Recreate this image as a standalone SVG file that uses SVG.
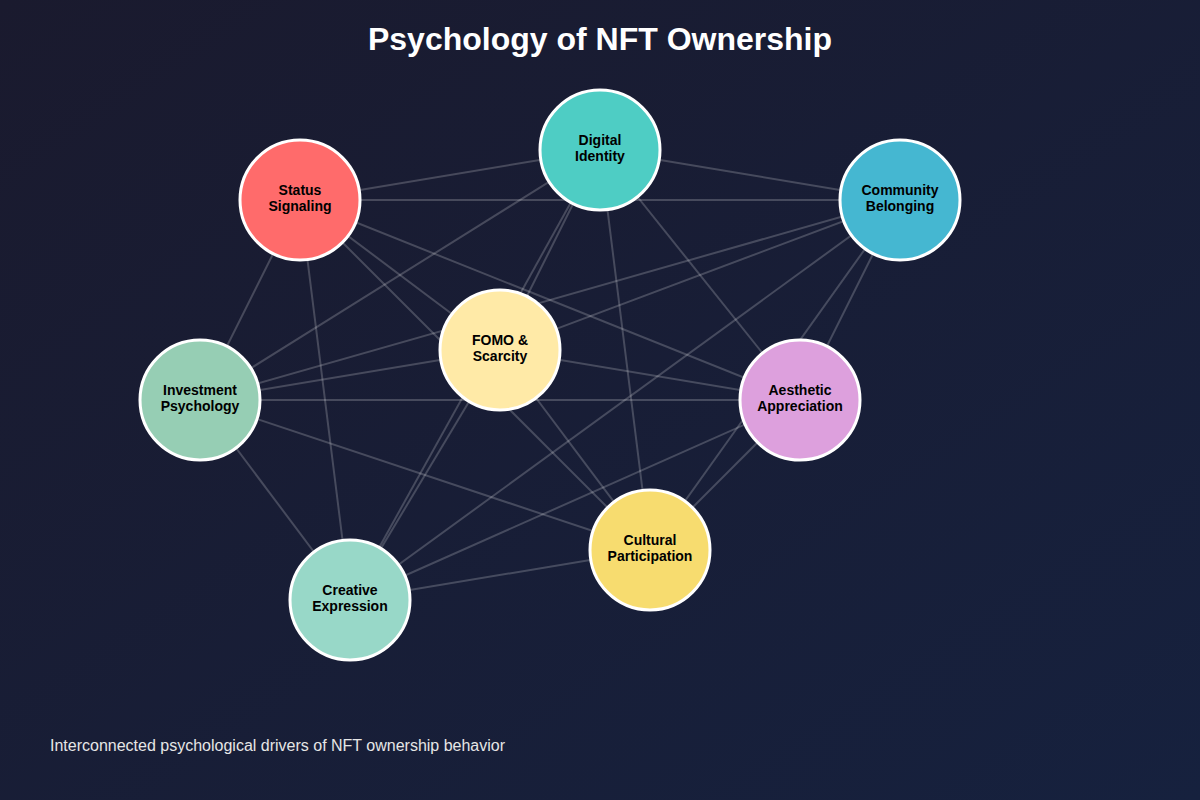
<svg xmlns="http://www.w3.org/2000/svg" width="1200" height="800" viewBox="0 0 1200 800">
<defs>
<linearGradient id="bg" x1="0" y1="0" x2="1" y2="1">
<stop offset="0" stop-color="#1a1a2e"/>
<stop offset="1" stop-color="#16213e"/>
</linearGradient>
<style>
.edge{stroke:#ffffff;stroke-opacity:0.2;stroke-width:2;fill:none}
.node circle{stroke:#ffffff;stroke-width:3}
.label{font-family:"Liberation Sans",Arial,sans-serif;font-size:14px;font-weight:bold;fill:#000000;text-anchor:middle}
.title{font-family:"Liberation Sans",Arial,sans-serif;font-size:32px;font-weight:bold;fill:#ffffff;text-anchor:middle}
.caption{font-family:"Liberation Sans",Arial,sans-serif;font-size:16px;fill:#e6e6e6}
</style>
</defs>
<rect width="1200" height="800" fill="url(#bg)"/>
<text class="title" x="600" y="50">Psychology of NFT Ownership</text>
<g id="connectors">
<line class="edge" x1="300" y1="200" x2="600" y2="150"/>
<line class="edge" x1="300" y1="200" x2="900" y2="200"/>
<line class="edge" x1="300" y1="200" x2="500" y2="350"/>
<line class="edge" x1="300" y1="200" x2="200" y2="400"/>
<line class="edge" x1="300" y1="200" x2="350" y2="600"/>
<line class="edge" x1="300" y1="200" x2="650" y2="550"/>
<line class="edge" x1="300" y1="200" x2="800" y2="400"/>
<line class="edge" x1="600" y1="150" x2="900" y2="200"/>
<line class="edge" x1="600" y1="150" x2="200" y2="400"/>
<line class="edge" x1="600" y1="150" x2="500" y2="350"/>
<line class="edge" x1="600" y1="150" x2="350" y2="600"/>
<line class="edge" x1="600" y1="150" x2="800" y2="400"/>
<line class="edge" x1="600" y1="150" x2="650" y2="550"/>
<line class="edge" x1="900" y1="200" x2="200" y2="400"/>
<line class="edge" x1="900" y1="200" x2="500" y2="350"/>
<line class="edge" x1="900" y1="200" x2="800" y2="400"/>
<line class="edge" x1="900" y1="200" x2="650" y2="550"/>
<line class="edge" x1="900" y1="200" x2="350" y2="600"/>
<line class="edge" x1="200" y1="400" x2="500" y2="350"/>
<line class="edge" x1="200" y1="400" x2="800" y2="400"/>
<line class="edge" x1="200" y1="400" x2="650" y2="550"/>
<line class="edge" x1="200" y1="400" x2="350" y2="600"/>
<line class="edge" x1="500" y1="350" x2="800" y2="400"/>
<line class="edge" x1="500" y1="350" x2="650" y2="550"/>
<line class="edge" x1="500" y1="350" x2="350" y2="600"/>
<line class="edge" x1="800" y1="400" x2="650" y2="550"/>
<line class="edge" x1="800" y1="400" x2="350" y2="600"/>
<line class="edge" x1="650" y1="550" x2="350" y2="600"/>
</g>
<g id="node-digital-identity" class="node">
<circle cx="600" cy="150" r="60" fill="#4ECDC4"/>
<text class="label" x="600" y="145">Digital</text>
<text class="label" x="600" y="161">Identity</text>
</g>
<g id="node-status-signaling" class="node">
<circle cx="300" cy="200" r="60" fill="#FF6B6B"/>
<text class="label" x="300" y="195">Status</text>
<text class="label" x="300" y="211">Signaling</text>
</g>
<g id="node-community-belonging" class="node">
<circle cx="900" cy="200" r="60" fill="#45B7D1"/>
<text class="label" x="900" y="195">Community</text>
<text class="label" x="900" y="211">Belonging</text>
</g>
<g id="node-fomo-scarcity" class="node">
<circle cx="500" cy="350" r="60" fill="#FFEAA7"/>
<text class="label" x="500" y="345">FOMO &amp;</text>
<text class="label" x="500" y="361">Scarcity</text>
</g>
<g id="node-investment-psychology" class="node">
<circle cx="200" cy="400" r="60" fill="#96CEB4"/>
<text class="label" x="200" y="395">Investment</text>
<text class="label" x="200" y="411">Psychology</text>
</g>
<g id="node-aesthetic-appreciation" class="node">
<circle cx="800" cy="400" r="60" fill="#DDA0DD"/>
<text class="label" x="800" y="395">Aesthetic</text>
<text class="label" x="800" y="411">Appreciation</text>
</g>
<g id="node-cultural-participation" class="node">
<circle cx="650" cy="550" r="60" fill="#F7DC6F"/>
<text class="label" x="650" y="545">Cultural</text>
<text class="label" x="650" y="561">Participation</text>
</g>
<g id="node-creative-expression" class="node">
<circle cx="350" cy="600" r="60" fill="#98D8C8"/>
<text class="label" x="350" y="595">Creative</text>
<text class="label" x="350" y="611">Expression</text>
</g>
<text class="caption" x="50" y="751">Interconnected psychological drivers of NFT ownership behavior</text>
</svg>
